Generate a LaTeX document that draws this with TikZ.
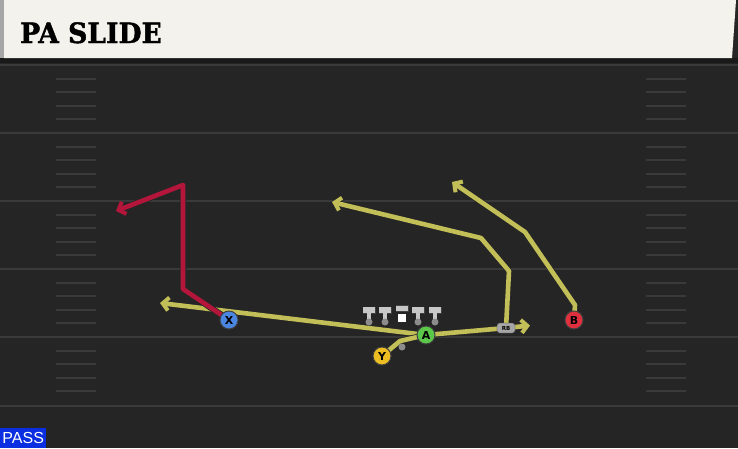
\documentclass[tikz,border=0pt]{standalone}
\usepackage{fontspec}
\usepackage{tikz}
\usetikzlibrary{positioning}
\usetikzlibrary{arrows.meta}
\usetikzlibrary{calc}
\newfontfamily\titlefont[FakeStretch=0.95,BoldFeatures={FakeBold=1.5}]{DejaVu Serif}
\newfontfamily\tagfont{Liberation Sans}
\newfontfamily\playerfont{DejaVu Sans}
\definecolor{fieldgrey}{HTML}{252525}
\definecolor{yardline}{HTML}{3A3A3A}
\definecolor{titlecream}{HTML}{F4F2EC}
\definecolor{routeyellow}{HTML}{C2BE58}
\definecolor{routered}{HTML}{B3163A}
\definecolor{xblue}{HTML}{4A86E0}
\definecolor{agreen}{HTML}{5CC84A}
\definecolor{yyellow}{HTML}{EDBE22}
\definecolor{bred}{HTML}{E0303E}
\definecolor{passblue}{HTML}{0A2EE0}
\pgfdeclarelayer{field}
\pgfdeclarelayer{routes}
\pgfsetlayers{field,routes,main}
\tikzset{
  player/.style={circle,draw=black!75,line width=1pt,minimum size=18pt,inner sep=0pt,
    font=\playerfont\bfseries\fontsize{11}{11}\selectfont,text=black},
  route/.style={line width=4.6pt,line join=round,
    preaction={draw=black!85,line width=6.2pt,line join=round}},
  tip/.style={-{Straight Barb[length=6pt,width=13pt,line width=4pt]}},
  hash/.style={yardline,line width=2pt},
}

\begin{document}
\begin{tikzpicture}[x=1pt,y=-1pt]
  \useasboundingbox (0,0) rectangle (738,448);

  % field and title bar
  \begin{pgfonlayer}{field}
    \fill[fieldgrey] (0,0) rectangle (738,448);
    \fill[black!90] (0,58) rectangle (738,63);
    \fill[black!35] (0,0) rectangle (4,58);
    \fill[titlecream] (4,0) -- (736,0) -- (732,58) -- (4,58) -- cycle;
    \foreach \yl in {65,133,201,269,337,406}
      \draw[yardline,line width=2.4pt] (0,\yl) -- (738,\yl);
    \foreach \yl in {65,133,201,269,337}
      \foreach \k in {1,...,4} {
        \draw[hash] (56,\yl+13.6*\k) -- (96,\yl+13.6*\k);
        \draw[hash] (646,\yl+13.6*\k) -- (686,\yl+13.6*\k);
      }
  \end{pgfonlayer}

  \node (title) [anchor=base west,inner sep=0pt] at (20,43)
    {\titlefont\bfseries\fontsize{28}{28}\selectfont PA SLIDE};
  \node (pass) [anchor=south west,fill=passblue,text=white,minimum width=46pt,minimum height=20pt,
    inner sep=0pt,font=\tagfont\fontsize{16}{16}\selectfont] at (0,448) {PASS};

  % offensive line
  \foreach \i/\xo in {1/369,2/385,4/418,5/435} {
    \fill[black!75] (\xo-6.5,306.5) rectangle (\xo+6.5,313.5);
    \fill[black!22] (\xo-6,307) rectangle (\xo+6,312.5);
    \fill[black!22] (\xo-2.2,312) rectangle (\xo+2.2,320);
    \node (ol\i) [circle,fill=black!45,minimum size=7pt,inner sep=0pt] at (\xo,322) {};
  }
  \fill[black!75] (395.5,305) rectangle (408.5,311.5);
  \fill[black!22] (396,305.5) rectangle (408,310.5);
  \node (ol3) [fill=white,minimum size=8pt,inner sep=0pt] at (402,317.5) {};

  % players
  \node (x) [player,fill=xblue]   at (229,320) {X};
  \node (a) [player,fill=agreen]  at (426,335) {A};
  \node (y) [player,fill=yyellow] at (382,356) {Y};
  \node (b) [player,fill=bred]    at (574,320) {B};
  \node (rb) [fill=black!35,draw=black!75,rounded corners=2.5pt,minimum width=18pt,minimum height=10pt,
    inner sep=0pt,font=\playerfont\bfseries\fontsize{5.5}{5.5}\selectfont] at (506,328) {RB};
  \node (ydot) [circle,fill=black!45,minimum size=7pt,inner sep=0pt] at (402,347) {};

  % route points
  \coordinate (ybend) at (400,341);
  \coordinate (aleft) at (160,303);
  \coordinate (rbout) at (530,325.5);
  \coordinate (rbup)  at (509,271);
  \coordinate (rbcut) at (481,238);
  \coordinate (rbend) at (332,202);
  \coordinate (bup)   at (575,305);
  \coordinate (bcut)  at (525,232);
  \coordinate (bend)  at (452,182);
  \coordinate (xin)   at (183,289);
  \coordinate (xup)   at (183,185);
  \coordinate (xend)  at (116,211);

  \begin{pgfonlayer}{routes}
    \draw[route,routeyellow,tip] (a.center) -- (aleft);
    \draw[route,routeyellow,tip] (y.center) -- (ybend) -- (a.center) -- (rb.center) -- (rbout);
    \draw[route,routeyellow,tip] (rb.center) -- (rbup) -- (rbcut) -- (rbend);
    \draw[route,routeyellow,tip] (b.center) -- (bup) -- (bcut) -- (bend);
    \draw[route,routered,tip] (x.center) -- (xin) -- (xup) -- (xend);
  \end{pgfonlayer}
\end{tikzpicture}
\end{document}
